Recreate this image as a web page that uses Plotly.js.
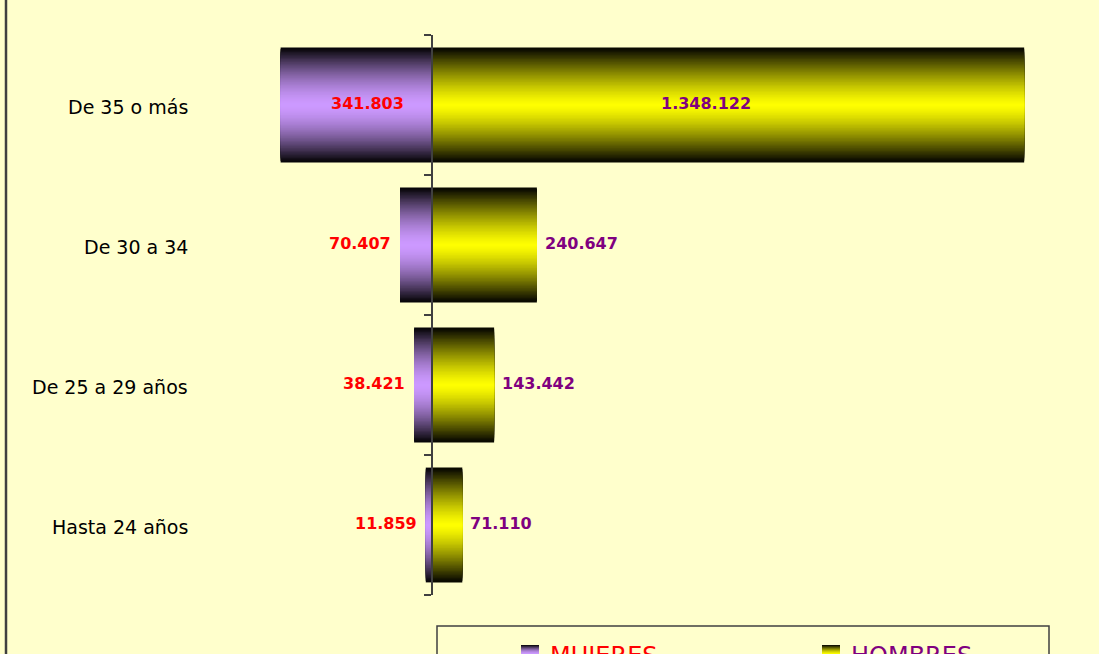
<!DOCTYPE html>
<html>
<head>
<meta charset="utf-8">
<script src="https://cdn.plot.ly/plotly-3.0.1.min.js"></script>
<style>html,body{margin:0;padding:0;background:#FFFFCC;}#chart{width:1099px;height:654px;}</style>
</head>
<body>
<div id="chart"></div>
<script>
// ---- data ----
const categories = ['Hasta 24 años', 'De 25 a 29 años', 'De 30 a 34', 'De 35 o más'];
const mujeres = [11859, 38421, 70407, 341803];
const hombres = [71110, 143442, 240647, 1348122];
const labelsMujeres = ['11.859', '38.421', '70.407', '341.803'];
const labelsHombres = ['71.110', '143.442', '240.647', '1.348.122'];
const seriesNames = ['MUJERES', 'HOMBRES'];

// ---- styling ----
const W = 1099, H = 654;
const M = {l: 200, r: 19, t: 35, b: 59};
const plotW = W - M.l - M.r, plotH = H - M.t - M.b;
const xRange = [-525000, 1475000];
const unitsPerPx = (xRange[1] - xRange[0]) / plotW;
const barWidth = 0.82;
const N = 40;
const lightW = [204, 153, 255], lightM = [255, 255, 0];
function shade(rgb, t, p) {
  const f = Math.max(0.04, 1 - Math.pow(t, p));
  return 'rgb(' + rgb.map(c => Math.round(c * f)).join(',') + ')';
}
const traces = [];
for (let k = 0; k < N; k++) {
  const t = 1 - (k + 0.5) / N;
  const w = barWidth * (1 - k / N);
  traces.push({type: 'bar', orientation: 'h', y: categories, x: mujeres.map(v => -v),
    width: w, marker: {color: shade(lightW, t, 1.6), line: {width: 0}},
    showlegend: false, hoverinfo: 'skip'});
  traces.push({type: 'bar', orientation: 'h', y: categories, x: hombres,
    width: w, marker: {color: shade(lightM, t, 1.3), line: {width: 0}},
    showlegend: false, hoverinfo: 'skip'});
}

const annotations = [];
const valFont = (c) => ({family: 'DejaVu Sans', size: 16, color: c, weight: 'bold'});
const insideMin = 140; // px of bar needed to hold a label inside
categories.forEach((cat, i) => {
  annotations.push({xref: 'paper', x: (190 - M.l) / plotW, xanchor: 'right', yref: 'y', y: cat,
    text: cat, showarrow: false, yshift: -2, font: {family: 'DejaVu Sans', size: 19, color: '#000'}});
  const wPx = mujeres[i] / unitsPerPx;
  if (wPx > insideMin) {
    annotations.push({x: -mujeres[i] / 2, y: cat, text: labelsMujeres[i], showarrow: false,
      xanchor: 'center', xshift: 12, yshift: 2, font: valFont('#FF0000')});
  } else {
    annotations.push({x: -mujeres[i], y: cat, text: labelsMujeres[i], showarrow: false,
      xanchor: 'right', xshift: -7, yshift: 2, font: valFont('#FF0000')});
  }
  const hPx = hombres[i] / unitsPerPx;
  if (hPx > insideMin) {
    annotations.push({x: hombres[i] / 2, y: cat, text: labelsHombres[i], showarrow: false,
      xanchor: 'center', xshift: -22, yshift: 2, font: valFont('#800080')});
  } else {
    annotations.push({x: hombres[i], y: cat, text: labelsHombres[i], showarrow: false,
      xanchor: 'left', xshift: 6, yshift: 2, font: valFont('#800080')});
  }
});

// ---- custom legend ----
const px2x = (px) => (px - M.l) / plotW;
const px2y = (py) => (M.t + plotH - py) / plotH;
const shapes = [];
// left border of chart area
shapes.push({type: 'line', xref: 'paper', yref: 'paper', x0: px2x(6), x1: px2x(6), y0: px2y(H + 10), y1: px2y(-10),
  line: {color: '#404040', width: 2.5}});
// legend box
shapes.push({type: 'rect', xref: 'paper', yref: 'paper', x0: px2x(437), x1: px2x(1049), y0: px2y(H + 20), y1: px2y(626),
  line: {color: '#404040', width: 1.5}, fillcolor: 'rgba(0,0,0,0)'});
const legendItems = [
  {cx: 530, color: lightW, p: 1.6, textX: 548, name: seriesNames[0], tc: '#FF0000'},
  {cx: 831, color: lightM, p: 1.3, textX: 849, name: seriesNames[1], tc: '#800080'}
];
const L = 9;
legendItems.forEach(it => {
  for (let k = 0; k < L; k++) {
    const t = 1 - (k + 0.5) / L;
    const hh = 9 * (1 - k / L);
    shapes.push({type: 'rect', xref: 'paper', yref: 'paper', xsizemode: 'pixel', ysizemode: 'pixel',
      xanchor: px2x(it.cx), yanchor: px2y(654), x0: -9, x1: 9, y0: -hh, y1: hh,
      line: {width: 0}, fillcolor: shade(it.color, t, it.p)});
  }
  annotations.push({xref: 'paper', yref: 'paper', x: px2x(it.textX), y: px2y(656), xanchor: 'left', yanchor: 'middle',
    text: it.name, showarrow: false, font: {family: 'DejaVu Sans', size: 24, color: it.tc}});
});

const layout = {
  width: W, height: H,
  margin: M,
  paper_bgcolor: '#FFFFCC', plot_bgcolor: '#FFFFCC',
  barmode: 'overlay',
  showlegend: false,
  xaxis: {range: xRange, showgrid: false, zeroline: false, showline: false, showticklabels: false, ticks: '', fixedrange: true},
  yaxis: {type: 'category', categoryorder: 'array', categoryarray: categories, range: [-0.5, categories.length - 0.5],
    anchor: 'free', position: (0 - xRange[0]) / (xRange[1] - xRange[0]),
    showgrid: false, zeroline: false, showline: true, linecolor: '#404040', linewidth: 1.5,
    ticks: 'outside', tickson: 'boundaries', ticklen: 7, tickcolor: '#404040', tickwidth: 1.5,
    showticklabels: false, fixedrange: true},
  annotations: annotations,
  shapes: shapes
};
Plotly.newPlot('chart', traces, layout, {displayModeBar: false, staticPlot: true});
</script>
</body>
</html>
